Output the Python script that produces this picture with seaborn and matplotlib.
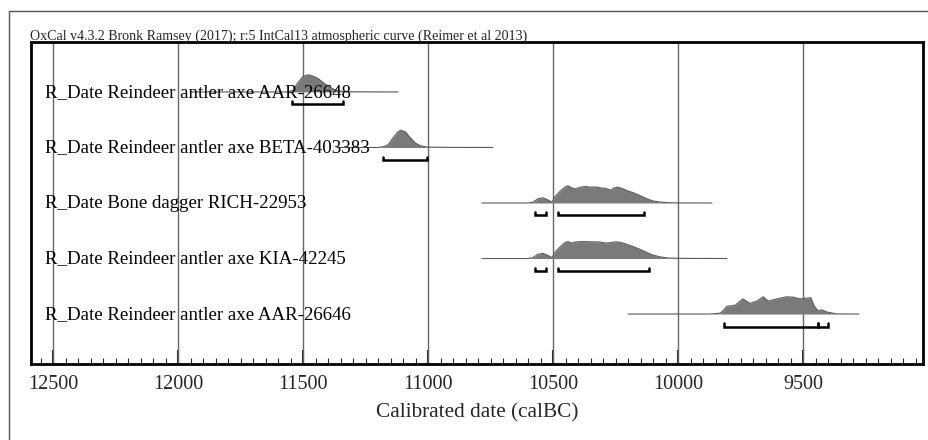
import numpy as np
import pandas as pd
import matplotlib.pyplot as plt
from matplotlib.lines import Line2D
import seaborn as sns

# sample labels, top to bottom
labels = ["R_Date Reindeer antler axe AAR-26648",
          "R_Date Reindeer antler axe BETA-403383",
          "R_Date Bone dagger RICH-22953",
          "R_Date Reindeer antler axe KIA-42245",
          "R_Date Reindeer antler axe AAR-26646"]

# calibrated probability curves (year calBC, relative density)
years_1 = [11952, 11560, 11540, 11520, 11500, 11480, 11460, 11440, 11420, 11400, 11380, 11360, 11340, 11300, 11120]
dens_1 = [0, 0, 0.1, 0.55, 0.9, 1.0, 0.92, 0.78, 0.55, 0.35, 0.18, 0.08, 0.03, 0.01, 0]

years_2 = [11364, 11200, 11180, 11160, 11140, 11120, 11108, 11090, 11070, 11050, 11030, 11010, 10990, 10900, 10740]
dens_2 = [0, 0, 0.04, 0.15, 0.55, 0.92, 1.0, 0.9, 0.55, 0.25, 0.1, 0.04, 0.02, 0.005, 0]

years_3 = [10784, 10600, 10580, 10560, 10540, 10520, 10504, 10490, 10470, 10450, 10440, 10425, 10410,
           10390, 10370, 10350, 10330, 10310, 10290, 10270, 10255, 10240, 10220, 10200, 10180, 10160,
           10140, 10120, 10100, 10070, 10040, 10000, 9864]
dens_3 = [0, 0, 0.05, 0.25, 0.3, 0.18, 0.05, 0.4, 0.7, 0.95, 1.0, 0.88, 0.82,
          0.92, 0.96, 0.92, 0.93, 0.88, 0.85, 0.75, 0.88, 0.92, 0.82, 0.7, 0.6, 0.48,
          0.35, 0.22, 0.12, 0.05, 0.02, 0.005, 0]

years_4 = [10784, 10600, 10580, 10560, 10540, 10520, 10504, 10490, 10470, 10450, 10440, 10425, 10410,
           10390, 10370, 10350, 10330, 10310, 10290, 10270, 10255, 10240, 10220, 10200, 10180, 10160,
           10140, 10120, 10100, 10070, 10040, 10000, 9804]
dens_4 = [0, 0, 0.05, 0.25, 0.3, 0.18, 0.05, 0.4, 0.7, 0.95, 0.98, 0.9, 0.96,
          0.98, 0.98, 0.97, 0.97, 0.95, 0.9, 0.92, 0.96, 0.96, 0.9, 0.8, 0.7, 0.58,
          0.45, 0.32, 0.2, 0.09, 0.03, 0.01, 0]

years_5 = [10200, 9872, 9832, 9819, 9805, 9772, 9741, 9712, 9685, 9659, 9639, 9605, 9565, 9539,
           9512, 9469, 9455, 9439, 9425, 9405, 9365, 9276]
dens_5 = [0, 0, 0.05, 0.2, 0.45, 0.5, 0.88, 0.62, 0.75, 1.0, 0.75, 0.88, 1.0, 0.98,
          0.88, 0.95, 0.45, 0.18, 0.25, 0.12, 0.01, 0]

curves = [(years_1, dens_1), (years_2, dens_2), (years_3, dens_3), (years_4, dens_4), (years_5, dens_5)]

# 95.4% ranges (start, end) per sample
ranges = [[(11544, 11340)],
          [(11180, 11004)],
          [(10572, 10528), (10480, 10136)],
          [(10572, 10528), (10480, 10116)],
          [(9816, 9440), (9440, 9400)]]

major_ticks = [12500, 12000, 11500, 11000, 10500, 10000, 9500]

title = "OxCal v4.3.2 Bronk Ramsey (2017); r:5 IntCal13 atmospheric curve (Reimer et al 2013)"

sns.set_theme(style="white")
plt.rcParams['font.family'] = ['Liberation Serif', 'DejaVu Serif']

fig = plt.figure(figsize=(9.29, 4.4), dpi=100)
ax = fig.add_axes([31 / 929, 76 / 440, 892 / 929, 322 / 440])

n = len(labels)
scale = 0.31
for i, ((yrs, dens), lab) in enumerate(zip(curves, labels)):
    y0 = n - 1 - i
    yy = y0 + np.array(dens) * scale
    ax.fill_between(yrs, y0, yy, color="#7a7a7a", lw=0, zorder=3)
    sns.lineplot(x=yrs, y=yy, ax=ax, color="#5a5a5a", lw=0.8, estimator=None, sort=False, zorder=4)
    ax.text(14 / 892, y0 - 0.09, lab, transform=ax.get_yaxis_transform(),
            fontsize=13.6, va='baseline', ha='left', color='black', zorder=6)
    yb = y0 - 0.225
    for a, b in ranges[i]:
        ax.plot([a, a, b, b], [yb + 0.055, yb, yb, yb + 0.055], color='black', lw=1.8, zorder=5,
                solid_joinstyle='miter')

for t in major_ticks:
    ax.axvline(t, color="#666666", lw=1, zorder=1)

ax.set_xlim(12588, 9020)
ax.set_ylim(-0.9, n - 1 + 0.9)
ax.set_yticks([])
ax.set_xticks(major_ticks)
ax.set_xticks(np.arange(9050, 12600, 50), minor=True)
ax.tick_params(axis='x', which='major', direction='in', length=10, width=1.5, pad=8, labelsize=14.5,
               bottom=True)
ax.tick_params(axis='x', which='minor', direction='in', length=4, width=0.8, bottom=True)
for s in ax.spines.values():
    s.set_color('black')
    s.set_linewidth(2)

fig.text(30 / 929, 1 - 40 / 440, title, fontsize=10.1, ha='left', va='baseline')
fig.text(477 / 929, 1 - 413 / 440, "Calibrated date (calBC)", fontsize=15.3, ha='center', va='center')

# outer page frame
fig.add_artist(Line2D([9 / 929, 9 / 929, 1.0], [0.0, 1 - 11 / 440, 1 - 11 / 440],
                      transform=fig.transFigure, color="#555555", lw=1))

fig.savefig("out.png", dpi=100)
